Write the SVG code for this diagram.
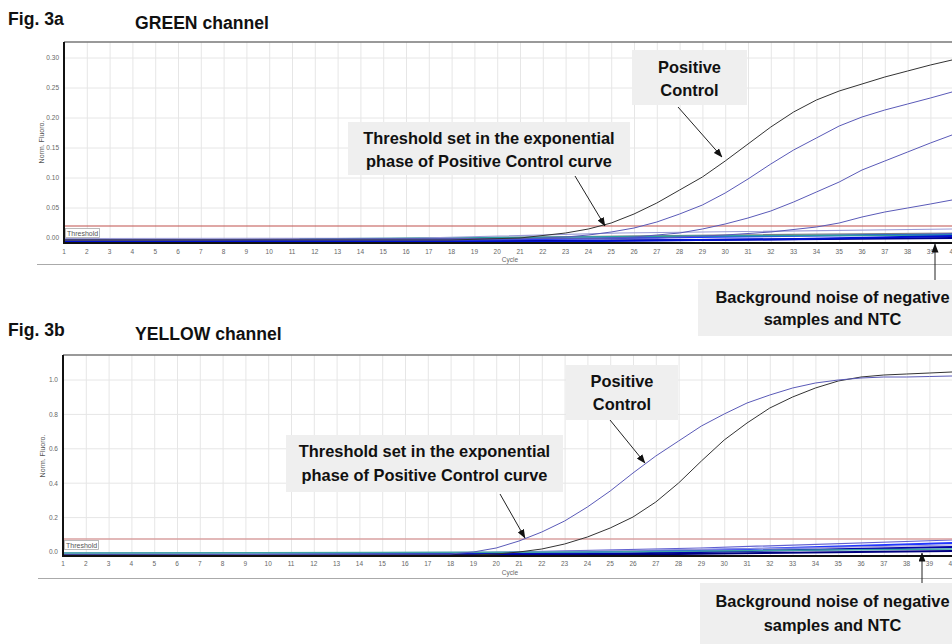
<svg xmlns="http://www.w3.org/2000/svg" width="952" height="644" viewBox="0 0 952 644">
<defs>
<style>
.title{font-family:"Liberation Sans",Arial,sans-serif;font-weight:bold;font-size:17.6px;fill:#111}
.call{font-family:"Liberation Sans",Arial,sans-serif;font-weight:bold;font-size:16.4px;fill:#111;text-anchor:middle}
.box{fill:#efefef}
.tick{font-family:"Liberation Sans",Arial,sans-serif;font-size:6.5px;fill:#666;text-anchor:middle}
.ytick{font-family:"Liberation Sans",Arial,sans-serif;font-size:6.5px;fill:#666;text-anchor:end}
.small{font-family:"Liberation Sans",Arial,sans-serif;font-size:7px;fill:#555}
.grid{stroke:#e6e6e6;stroke-width:1;fill:none}
.axis{stroke:#111;stroke-width:2;fill:none}
.frame{stroke:#777;stroke-width:1.5;fill:none}
.sep{stroke:#aaa;stroke-width:1;fill:none}
.crv{fill:none;stroke-linejoin:round;stroke-linecap:round}
.blk{stroke:#333;stroke-width:1}
.pur{stroke:#5a5ab8;stroke-width:1}
.arr{stroke:#222;stroke-width:1;fill:none;marker-end:url(#ah)}
</style>
<marker id="ah" markerWidth="9" markerHeight="7" refX="8.5" refY="3.5" orient="auto" markerUnits="userSpaceOnUse">
<path d="M0,0 L9,3.5 L0,7 Z" fill="#111"/>
</marker>
<pattern id="vgA" x="64" y="0" width="22.8" height="644" patternUnits="userSpaceOnUse">
<line x1="0.5" y1="0" x2="0.5" y2="644" stroke="#e6e6e6" stroke-width="1"/>
</pattern>
<pattern id="vgB" x="63" y="0" width="22.8" height="644" patternUnits="userSpaceOnUse">
<line x1="0.5" y1="0" x2="0.5" y2="644" stroke="#e6e6e6" stroke-width="1"/>
</pattern>
</defs>
<rect width="952" height="644" fill="#fff"/>

<!-- ============ Fig 3a ============ -->
<g id="fig3a-title">
<text class="title" x="8" y="25">Fig. 3a</text>
<text class="title" x="135" y="29">GREEN channel</text>
</g>
<g id="chart-green">
<rect x="64" y="42" width="888" height="201" fill="url(#vgA)"/>
<g class="grid">
<line x1="64" y1="58" x2="952" y2="58"/>
<line x1="64" y1="88" x2="952" y2="88"/>
<line x1="64" y1="118" x2="952" y2="118"/>
<line x1="64" y1="148" x2="952" y2="148"/>
<line x1="64" y1="178" x2="952" y2="178"/>
<line x1="64" y1="208" x2="952" y2="208"/>
</g>
<line class="frame" x1="64" y1="42" x2="952" y2="42"/>
<g class="ytick">
<text x="59" y="60">0.30</text>
<text x="59" y="90">0.25</text>
<text x="59" y="120">0.20</text>
<text x="59" y="150">0.15</text>
<text x="59" y="180">0.10</text>
<text x="59" y="210">0.05</text>
<text x="59" y="240">0.00</text>
</g>
<text class="small" transform="translate(44,142) rotate(-90)" text-anchor="middle">Norm. Fluoro.</text>
<!-- noise -->
<polyline class="crv" stroke="#000090" stroke-width="2" points="64,241.5 400,241.5 700,240 952,238"/>
<polyline class="crv" stroke="#2036ff" stroke-width="2" points="64,239.5 300,240 500,239.5 700,237 952,234"/>
<polyline class="crv" stroke="#808080" stroke-width="1.2" points="64,240 350,239 620,236 952,233"/>
<polyline class="crv" stroke="#2b9e9e" stroke-width="1.5" points="300,239 520,237.5 700,236 952,235"/>
<polyline class="crv" stroke="#9a9ad6" stroke-width="1.2" points="64,238.5 420,238 620,233 952,229"/>
<polyline class="crv" stroke="#0010d0" stroke-width="2" points="64,242 500,242 800,239 952,236"/>
<!-- threshold -->
<line x1="64" y1="226" x2="952" y2="226" stroke="#c0504d" stroke-width="1.2"/>
<rect x="65.5" y="228.5" width="34" height="9" fill="#fff" stroke="#aaa" stroke-width="0.8"/>
<text class="small" x="67" y="235.5" font-size="6.5">Threshold</text>
<!-- curves -->
<polyline class="crv pur" points="64,240 656.8,238 725.2,235 770.8,232 816.4,227 839.2,223 862,217 884.8,212 907.6,208 930.4,204 952,200"/>
<polyline class="crv pur" points="64,240 600,238.5 634,237 656.8,235 679.6,233 702.4,229 725.2,224 748,218 770.8,211 793.6,202 816.4,192 839.2,182 862,170 884.8,161 907.6,152 930.4,143 952,135"/>
<polyline class="crv pur" points="64,240 520,239 565.6,237 588.4,235 611.2,232 634,228 656.8,222 679.6,214 702.4,205 725.2,193 748,179 770.8,164 793.6,150 816.4,138 839.2,126 862,117 884.8,110 907.6,104 930.4,98 952,92"/>
<polyline class="crv blk" points="64,240 450,240 520,238 565.6,233 588.4,229 611.2,223 634,214 656.8,203 679.6,190 702.4,177 725.2,161 748,144 770.8,127 793.6,112 816.4,100 839.2,91 862,84 884.8,77 907.6,71 930.4,65 952,60"/>
<line class="axis" x1="64" y1="42" x2="64" y2="244"/>
<line class="axis" x1="63" y1="243" x2="952" y2="243"/>
<g class="tick">
<text x="64" y="254">1</text><text x="86.8" y="254">2</text><text x="109.6" y="254">3</text><text x="132.4" y="254">4</text><text x="155.2" y="254">5</text><text x="178" y="254">6</text><text x="200.8" y="254">7</text><text x="223.6" y="254">8</text><text x="246.4" y="254">9</text><text x="269.2" y="254">10</text><text x="292" y="254">11</text><text x="314.8" y="254">12</text><text x="337.6" y="254">13</text><text x="360.4" y="254">14</text><text x="383.2" y="254">15</text><text x="406" y="254">16</text><text x="428.8" y="254">17</text><text x="451.6" y="254">18</text><text x="474.4" y="254">19</text><text x="497.2" y="254">20</text><text x="520" y="254">21</text><text x="542.8" y="254">22</text><text x="565.6" y="254">23</text><text x="588.4" y="254">24</text><text x="611.2" y="254">25</text><text x="634" y="254">26</text><text x="656.8" y="254">27</text><text x="679.6" y="254">28</text><text x="702.4" y="254">29</text><text x="725.2" y="254">30</text><text x="748" y="254">31</text><text x="770.8" y="254">32</text><text x="793.6" y="254">33</text><text x="816.4" y="254">34</text><text x="839.2" y="254">35</text><text x="862" y="254">36</text><text x="884.8" y="254">37</text><text x="907.6" y="254">38</text><text x="930.4" y="254">39</text><text x="953.2" y="254">40</text>
<text x="510" y="262">Cycle</text>
</g>
<line class="sep" x1="37" y1="264.5" x2="952" y2="264.5"/>
</g>

<!-- ============ Fig 3b ============ -->
<g id="fig3b-title">
<text class="title" x="8" y="336">Fig. 3b</text>
<text class="title" x="135" y="340">YELLOW channel</text>
</g>
<g id="chart-yellow">
<rect x="63" y="355" width="889" height="201" fill="url(#vgB)"/>
<g class="grid">
<line x1="63" y1="380" x2="952" y2="380"/>
<line x1="63" y1="414.4" x2="952" y2="414.4"/>
<line x1="63" y1="448.8" x2="952" y2="448.8"/>
<line x1="63" y1="483.2" x2="952" y2="483.2"/>
<line x1="63" y1="517.6" x2="952" y2="517.6"/>
</g>
<line class="frame" x1="63" y1="355" x2="952" y2="355"/>
<g class="ytick">
<text x="58" y="382">1.0</text>
<text x="58" y="416.5">0.8</text>
<text x="58" y="451">0.6</text>
<text x="58" y="485.5">0.4</text>
<text x="58" y="520">0.2</text>
<text x="58" y="554">0.0</text>
</g>
<text class="small" transform="translate(45,456) rotate(-90)" text-anchor="middle">Norm. Fluoro.</text>
<!-- noise -->
<polyline class="crv" stroke="#6060d0" stroke-width="1.2" points="63,553 470,553 700,548 952,540"/>
<polyline class="crv" stroke="#2036ff" stroke-width="2" points="63,555 500,554 750,549 952,543"/>
<polyline class="crv" stroke="#9a9ad6" stroke-width="1.2" points="63,554 520,552 800,548 952,545"/>
<polyline class="crv" stroke="#0000a8" stroke-width="2" points="63,555.5 600,554 952,547"/>
<polyline class="crv" stroke="#3fa5a5" stroke-width="1.5" points="63,553 600,552 952,549"/>
<polyline class="crv" stroke="#000080" stroke-width="2" points="63,556 500,556 952,551"/>
<!-- threshold -->
<line x1="63" y1="539" x2="952" y2="539" stroke="#d9a0a0" stroke-width="1.6"/>
<rect x="64.5" y="540.5" width="34" height="9" fill="#fff" stroke="#aaa" stroke-width="0.8"/>
<text class="small" x="66" y="547.5" font-size="6.5">Threshold</text>
<!-- curves -->
<polyline class="crv blk" points="63,555 473.4,555 496.2,554 519,552 541.8,549 564.6,544 587.4,537 610.2,528 633,517 655.8,502 678.6,483 701.4,461 724.2,440 747,423 769.8,408 792.6,397 815.4,388 838.2,381 861,377 883.8,375 906.6,374 929.4,373 952,372"/>
<polyline class="crv pur" points="63,555 450,554 473.4,552 496.2,548 519,541 541.8,532 564.6,521 587.4,507 610.2,491 633,473 655.8,456 678.6,441 701.4,426 724.2,414 747,403 769.8,395 792.6,388 815.4,383 838.2,380 861,378 883.8,377 906.6,377 929.4,376.5 952,376"/>
<line class="axis" x1="63" y1="355" x2="63" y2="557"/>
<line class="axis" x1="62" y1="556" x2="952" y2="556"/>
<g class="tick">
<text x="63" y="566">1</text><text x="85.8" y="566">2</text><text x="108.6" y="566">3</text><text x="131.4" y="566">4</text><text x="154.2" y="566">5</text><text x="177" y="566">6</text><text x="199.8" y="566">7</text><text x="222.6" y="566">8</text><text x="245.4" y="566">9</text><text x="268.2" y="566">10</text><text x="291" y="566">11</text><text x="313.8" y="566">12</text><text x="336.6" y="566">13</text><text x="359.4" y="566">14</text><text x="382.2" y="566">15</text><text x="405" y="566">16</text><text x="427.8" y="566">17</text><text x="450.6" y="566">18</text><text x="473.4" y="566">19</text><text x="496.2" y="566">20</text><text x="519" y="566">21</text><text x="541.8" y="566">22</text><text x="564.6" y="566">23</text><text x="587.4" y="566">24</text><text x="610.2" y="566">25</text><text x="633" y="566">26</text><text x="655.8" y="566">27</text><text x="678.6" y="566">28</text><text x="701.4" y="566">29</text><text x="724.2" y="566">30</text><text x="747" y="566">31</text><text x="769.8" y="566">32</text><text x="792.6" y="566">33</text><text x="815.4" y="566">34</text><text x="838.2" y="566">35</text><text x="861" y="566">36</text><text x="883.8" y="566">37</text><text x="906.6" y="566">38</text><text x="929.4" y="566">39</text><text x="952.2" y="566">40</text>
<text x="510" y="575">Cycle</text>
</g>
<line class="sep" x1="38" y1="578.5" x2="952" y2="578.5"/>
</g>

<!-- ============ Callouts ============ -->
<g id="callout-a-threshold">
<rect class="box" x="348" y="122" width="282" height="53"/>
<text class="call" x="489" y="144">Threshold set in the exponential</text>
<text class="call" x="489" y="167">phase of Positive Control curve</text>
</g>
<g id="callout-a-positive">
<rect class="box" x="632" y="50" width="115" height="55"/>
<text class="call" x="689.5" y="73">Positive</text>
<text class="call" x="689.5" y="96">Control</text>
</g>
<g id="callout-a-noise">
<rect class="box" x="698" y="280" width="254" height="56"/>
<text class="call" x="832.5" y="303">Background noise of negative</text>
<text class="call" x="832.5" y="325">samples and NTC</text>
</g>
<g id="callout-b-threshold">
<rect class="box" x="286" y="435" width="277" height="57"/>
<text class="call" x="424.5" y="457">Threshold set in the exponential</text>
<text class="call" x="424.5" y="481">phase of Positive Control curve</text>
</g>
<g id="callout-b-positive">
<rect class="box" x="566" y="365" width="112" height="55"/>
<text class="call" x="622" y="387">Positive</text>
<text class="call" x="622" y="410">Control</text>
</g>
<g id="callout-b-noise">
<rect class="box" x="700" y="583" width="252" height="61"/>
<text class="call" x="832.5" y="607">Background noise of negative</text>
<text class="call" x="832.5" y="631">samples and NTC</text>
</g>

<g id="connectors">
<line class="arr" x1="575" y1="176" x2="605" y2="226"/>
<line class="arr" x1="678" y1="107" x2="722" y2="157"/>
<line class="arr" x1="935" y1="280" x2="935" y2="244"/>
<line class="arr" x1="500" y1="494" x2="525" y2="538"/>
<line class="arr" x1="610" y1="420" x2="645" y2="463"/>
<line class="arr" x1="922" y1="583" x2="922" y2="553"/>
</g>
</svg>
